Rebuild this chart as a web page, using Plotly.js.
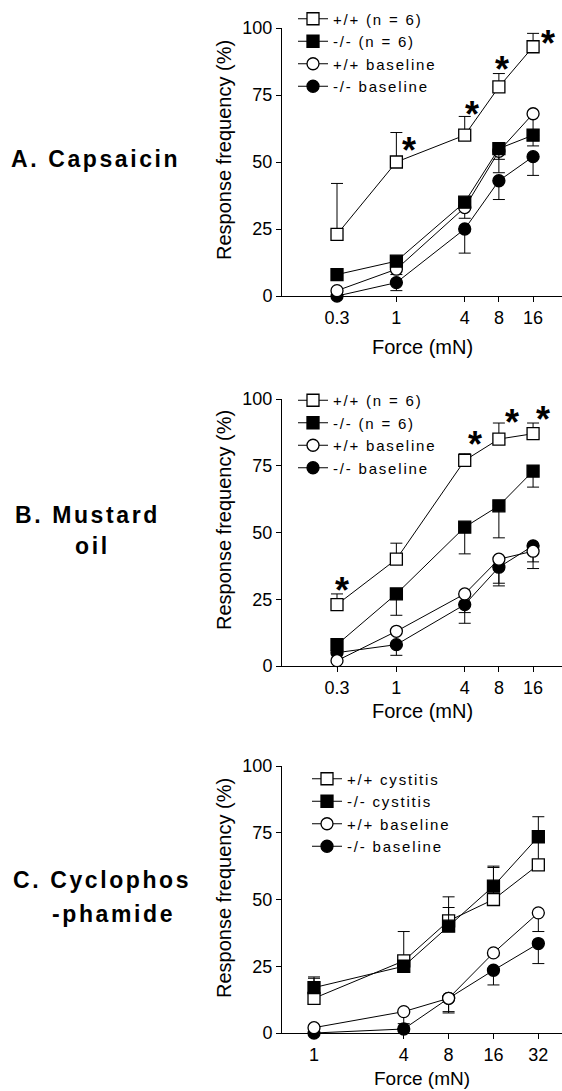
<!DOCTYPE html>
<html><head><meta charset="utf-8">
<script src="https://cdn.plot.ly/plotly-3.0.1.min.js"></script>
<style>
html,body{margin:0;padding:0;background:#fff;}
#chart{width:562px;height:1091px;}
</style></head><body><div id="chart"></div>
<script>
// ---------- data ----------
const forceAB = [0.3, 1, 4, 8, 16];
const forceC  = [1, 4, 8, 16, 32];
const tickAB  = ['0.3', '1', '4', '8', '16'];
const tickC   = ['1', '4', '8', '16', '32'];
const yTicks  = [0, 25, 50, 75, 100];

// Panel A: Capsaicin
const aWt      = [23, 50, 60, 78, 93];   const aWtErrUp     = [19, 11, 7, 5, 5];
const aKo      = [8, 13, 35, 55, 60];    const aKoErrDown   = [0, 1.5, 2, 4, 4];
const aWtBase  = [2, 10, 33, 54, 68];    const aWtBaseErrDn = [0, 2, 4, 8, 6];
const aKoBase  = [0, 5, 25, 43, 52];     const aKoBaseErrDn = [0, 3, 9, 7, 7];
const aSigX = [1, 4, 8, 16];
const aSigY = [57, 70.5, 87, 97];

// Panel B: Mustard oil
const bWt      = [23, 40, 77, 85, 87];   const bWtErrUp     = [4, 6, 2.5, 6, 4];
const bKo      = [8, 27, 52, 60, 73];    const bKoErrDown   = [0, 8, 10, 12, 6];
const bWtBase  = [2, 13, 27, 40, 43];    const bWtBaseErrDn = [0, 0, 7, 9, 6.5];
const bKoBase  = [5, 8, 23, 37, 45];     const bKoBaseErrDn = [0, 4, 7, 7, 6];
const bSigX = [0.3, 4, 8, 16];
const bSigY = [31, 85.4, 94, 95];

// Panel C: Cyclophosphamide
const cWt      = [13, 27, 42, 50, 63];   const cWtErrUp     = [8, 11, 9, 12.5, 10];
const cKo      = [17, 25, 40, 55, 73.5]; const cKoErrUp     = [3.5, 0, 7, 7, 7.5];
const cWtBase  = [2, 8, 13, 30, 45];     const cWtBaseErrDn = [0, 4.5, 5, 0, 7];
const cKoBase  = [0, 1.5, 13, 23.5, 33.5]; const cKoBaseErrDn = [0, 0, 5.5, 5.5, 7.5];

const namesAB = ['+/+ (n = 6)', '-/- (n = 6)', '+/+ baseline', '-/- baseline'];
const namesC  = ['+/+ cystitis', '-/- cystitis', '+/+ baseline', '-/- baseline'];

// ---------- helpers ----------
const W = 562, H = 1091;
const px = v => v / W;
const py = v => 1 - v / H;
const FONT = 'Liberation Sans, Arial, sans-serif';
const zeros = n => new Array(n).fill(0);
const spaced = (t, s) => '<span style="letter-spacing:' + s + 'px">' + t + '</span>';

function tr(x, y, err, dir, name, sym, open, xa, ya, leg, rank) {
  return {
    type: 'scatter', mode: 'lines+markers', x: x, y: y, name: spaced(name, 1.8),
    xaxis: xa, yaxis: ya, legend: leg, legendrank: rank, cliponaxis: false,
    line: {color: '#000', width: 1},
    marker: {symbol: sym, size: 12, color: open ? '#fff' : '#000', line: {color: '#000', width: 1.3}},
    error_y: {type: 'data', symmetric: false,
      array: dir === 'up' ? err : zeros(err.length),
      arrayminus: dir === 'down' ? err : zeros(err.length),
      color: '#000', thickness: 1, width: 6}
  };
}

const data = [
  tr(forceAB, aKoBase, aKoBaseErrDn, 'down', namesAB[3], 'circle', false, 'x', 'y', 'legend', 4),
  tr(forceAB, aWtBase, aWtBaseErrDn, 'down', namesAB[2], 'circle', true, 'x', 'y', 'legend', 3),
  tr(forceAB, aWt, aWtErrUp, 'up', namesAB[0], 'square', true, 'x', 'y', 'legend', 1),
  tr(forceAB, aKo, aKoErrDown, 'down', namesAB[1], 'square', false, 'x', 'y', 'legend', 2),

  tr(forceAB, bKoBase, bKoBaseErrDn, 'down', namesAB[3], 'circle', false, 'x2', 'y2', 'legend2', 4),
  tr(forceAB, bWtBase, bWtBaseErrDn, 'down', namesAB[2], 'circle', true, 'x2', 'y2', 'legend2', 3),
  tr(forceAB, bWt, bWtErrUp, 'up', namesAB[0], 'square', true, 'x2', 'y2', 'legend2', 1),
  tr(forceAB, bKo, bKoErrDown, 'down', namesAB[1], 'square', false, 'x2', 'y2', 'legend2', 2),

  tr(forceC, cKoBase, cKoBaseErrDn, 'down', namesC[3], 'circle', false, 'x3', 'y3', 'legend3', 4),
  tr(forceC, cWtBase, cWtBaseErrDn, 'down', namesC[2], 'circle', true, 'x3', 'y3', 'legend3', 3),
  tr(forceC, cWt, cWtErrUp, 'up', namesC[0], 'square', true, 'x3', 'y3', 'legend3', 1),
  tr(forceC, cKo, cKoErrUp, 'up', namesC[1], 'square', false, 'x3', 'y3', 'legend3', 2)
];

function xax(range, vals, text) {
  return {domain: [px(282), 1], type: 'log', range: range, tickmode: 'array', tickvals: vals, ticktext: text,
    ticks: 'outside', ticklen: 5, tickwidth: 1, tickcolor: '#000', showline: true, linecolor: '#000', linewidth: 1,
    showgrid: false, zeroline: false, tickfont: {family: FONT, size: 18, color: '#000'}, fixedrange: true};
}
function yax(top, bottom, anchor) {
  return {domain: [py(bottom), py(top)], range: [0, 100], anchor: anchor, tickmode: 'array', tickvals: yTicks,
    ticks: 'outside', ticklen: 5, tickwidth: 1, tickcolor: '#000', showline: true, linecolor: '#000', linewidth: 1,
    showgrid: false, zeroline: false, tickfont: {family: FONT, size: 18, color: '#000'}, fixedrange: true};
}
function leg(leftPx, topPx) {
  return {x: px(leftPx), y: py(topPx), xanchor: 'left', yanchor: 'top', bgcolor: 'rgba(0,0,0,0)',
    font: {family: FONT, size: 15, color: '#000'}, itemwidth: 30, tracegroupgap: 0};
}

const ann = [];
function label(text, cx, cy, size, bold, spacing) {
  ann.push({xref: 'paper', yref: 'paper', x: px(cx), y: py(cy), xanchor: 'center', yanchor: 'middle',
    showarrow: false, text: spacing ? spaced(text, spacing) : text,
    font: {family: FONT, size: size, color: '#000', weight: bold ? 'bold' : 'normal'}});
}
label('A. Capsaicin', 95, 159, 23, true, 2.6);
label('B. Mustard', 87, 515, 23, true, 2.6);
label('oil', 92, 546, 23, true, 2.6);
label('C. Cyclophos', 102, 880, 23, true, 2.6);
label('-phamide', 113, 914, 23, true, 2.6);
label('Force (mN)', 422, 347, 20, false, 0);
label('Force (mN)', 422, 711, 20, false, 0);
label('Force (mN)', 422, 1078, 19, false, 0);
[150, 520, 888].forEach(cy => {
  ann.push({xref: 'paper', yref: 'paper', x: px(224), y: py(cy), xanchor: 'center', yanchor: 'middle',
    showarrow: false, textangle: -90, text: 'Response frequency (%)', font: {family: FONT, size: 20, color: '#000'}});
});
function stars(xs, ys, shifts, xr, yr) {
  xs.forEach((v, i) => ann.push({xref: xr, yref: yr, x: Math.log10(v), y: ys[i], showarrow: false,
    text: '*', xanchor: 'center', yanchor: 'middle', xshift: shifts[i], yshift: -7,
    font: {family: FONT, size: 36, color: '#000', weight: 'bold'}}));
}
stars(aSigX, aSigY, [13, 7, 3, 15], 'x', 'y');
stars(bSigX, bSigY, [5, 10, 13, 10], 'x2', 'y2');

const layout = {
  width: W, height: H, margin: {l: 0, r: 0, t: 0, b: 0}, paper_bgcolor: '#fff', plot_bgcolor: '#fff',
  showlegend: true, hovermode: false,
  xaxis:  Object.assign(xax([-1.0075, 1.459], forceAB, tickAB), {anchor: 'y'}),
  xaxis2: Object.assign(xax([-1.0075, 1.459], forceAB, tickAB), {anchor: 'y2'}),
  xaxis3: Object.assign(xax([-0.2148, 1.664], forceC, tickC), {anchor: 'y3'}),
  yaxis:  yax(28, 296, 'x'),
  yaxis2: yax(399, 666, 'x2'),
  yaxis3: yax(766, 1033, 'x3'),
  legend: leg(293, 2.5),
  legend2: leg(293, 384),
  legend3: leg(307, 762.5),
  annotations: ann
};
Plotly.newPlot('chart', data, layout, {staticPlot: true, displayModeBar: false});
</script></body></html>
